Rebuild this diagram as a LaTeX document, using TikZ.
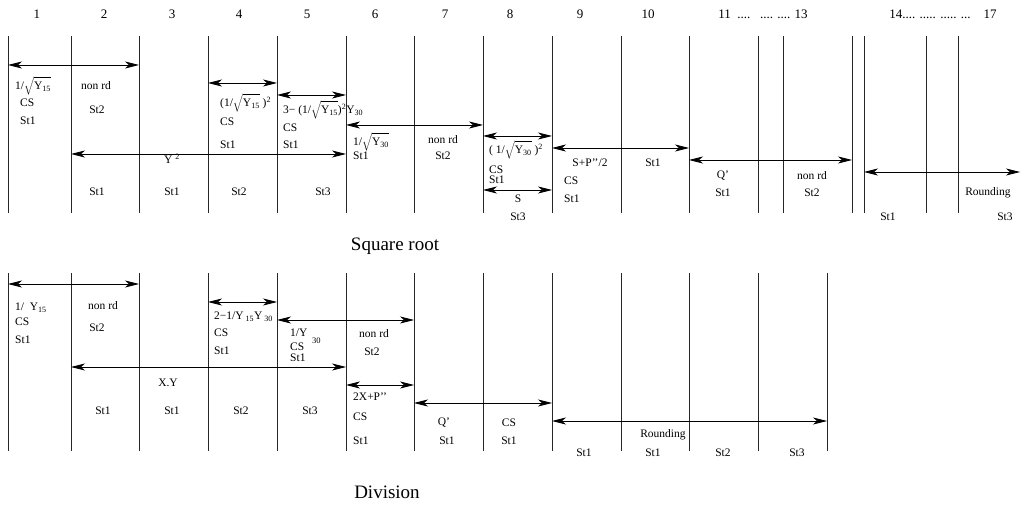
\documentclass[tikz,border=0pt]{standalone}
\usepackage{fontspec}
\setmainfont{Liberation Serif}
\usetikzlibrary{arrows.meta}
\newcommand{\sq}[1]{$\sqrt{\mbox{\rule[-3pt]{0pt}{12.5pt}#1}}$}
\newcommand{\ys}[1]{Y\textsubscript{#1}}
\begin{document}
\begin{tikzpicture}[x=1pt,y=-1pt,
  lane/.style={line width=0.9pt, draw=black!85},
  dbl/.style={line width=0.8pt, {Stealth[length=14pt,width=7pt,inset=4pt]}-{Stealth[length=14pt,width=7pt,inset=4pt]}},
  lbl/.style={font=\fontsize{11.5}{13}\selectfont, inner sep=0pt},
  lw/.style={lbl, anchor=west},
  num/.style={font=\fontsize{13}{15}\selectfont, inner sep=0pt},
  ttl/.style={font=\fontsize{19}{22}\selectfont, inner sep=0pt}]
\useasboundingbox (0,0) rectangle (1021,505);

% ---------- Square root: lanes ----------
\foreach \n/\x in {1/8,2/71,3/139,4/208,5/277,6/346,7/414,8/483,9/552,10/621,11/689,12/758,13/783,14/852,15/864,16/926,17/958}{
  \coordinate (ta\n) at (\x,36);
  \coordinate (tb\n) at (\x,213);
  \draw[lane] (ta\n) -- (tb\n);
}
\coordinate (tend) at (1020,36);

% column numbers
\foreach \n/\x/\t in {1/37/1,2/104/2,3/172/3,4/239/4,5/307/5,6/375/6,7/445/7,8/510/8,9/580/9,10/648/10}{
  \node[num] (num\n) at (\x,14) {\t};
}
\node[num] (num11) at (763,14) {11\ \ ....\ \ \ .... .... 13};
\node[num] (num14) at (943,14) {14.... ..... ..... ...\ \ \ \ 17};

% arrows
\draw[dbl] (ta1 |- 0,65) -- (ta3 |- 0,65);
\draw[dbl] (ta4 |- 0,83) -- (ta5 |- 0,83);
\draw[dbl] (ta5 |- 0,95) -- (ta6 |- 0,95);
\draw[dbl] (ta2 |- 0,154) -- (ta6 |- 0,154);
\draw[dbl] (ta6 |- 0,125) -- (ta8 |- 0,125);
\draw[dbl] (ta8 |- 0,136) -- (ta9 |- 0,136);
\draw[dbl] (ta9 |- 0,148) -- (ta11 |- 0,148);
\draw[dbl] (ta8 |- 0,190) -- (ta9 |- 0,190);
\draw[dbl] (ta11 |- 0,160) -- (ta14 |- 0,160);
\draw[dbl] (ta15 |- 0,172) -- (tend |- 0,172);

% labels
\node[lw] (s1a) at (15,86) {1/\sq{\ys{15}}};
\node[lw] (s1b) at (20,103) {CS};
\node[lw] (s1c) at (20,121) {St1};
\node[lbl] (s2a) at (96,86) {non rd};
\node[lbl] (s2b) at (97,110) {St2};
\node[lw] (s4a) at (220,103) {(1/\sq{\ys{15}} )\textsuperscript{2}};
\node[lw] (s4b) at (220,122) {CS};
\node[lw] (s4c) at (220,145) {St1};
\node[lw] (s5a) at (283,110) {3−\ (1/\sq{\ys{15}})\textsuperscript{2}\ys{30}};
\node[lw] (s5b) at (283,128) {CS};
\node[lw] (s5c) at (283,145) {St1};
\node[lbl] (s3a) at (172,159) {Y \textsuperscript{2}};
\node[lbl] (s2c) at (97,192) {St1};
\node[lbl] (s3b) at (172,192) {St1};
\node[lbl] (s4d) at (239,192) {St2};
\node[lbl] (s5d) at (323,192) {St3};
\node[lw] (s6a) at (353,142) {1/\sq{\ys{30}}};
\node[lw] (s6b) at (353,156) {St1};
\node[lbl] (s7a) at (443,140) {non rd};
\node[lbl] (s7b) at (443,156) {St2};
\node[lw] (s8a) at (489,150) {( 1/\sq{\ys{30}} )\textsuperscript{2}};
\node[lw] (s8b) at (489,170) {CS};
\node[lw] (s8c) at (489,180) {St1};
\node[lbl] (s8d) at (518,199) {S};
\node[lbl] (s8e) at (518,217) {St3};
\node[lbl] (s9a) at (590,163) {S+P’’/2};
\node[lw] (s9b) at (564,181) {CS};
\node[lw] (s9c) at (564,199) {St1};
\node[lbl] (s10a) at (653,163) {St1};
\node[lbl] (s11a) at (723,176) {Q’};
\node[lbl] (s11b) at (723,193) {St1};
\node[lbl] (s13a) at (812,176) {non rd};
\node[lbl] (s13b) at (812,193) {St2};
\node[lbl] (s17a) at (988,193) {Rounding};
\node[lbl] (s14a) at (888,217) {St1};
\node[lbl] (s17b) at (1005,217) {St3};
\node[ttl] (sqtitle) at (395,246) {Square root};

% ---------- Division: lanes ----------
\foreach \n/\x in {1/8,2/71,3/139,4/208,5/277,6/346,7/414,8/483,9/552,10/621,11/689,12/758,13/827}{
  \coordinate (da\n) at (\x,273);
  \coordinate (db\n) at (\x,451);
  \draw[lane] (da\n) -- (db\n);
}

\draw[dbl] (da1 |- 0,284) -- (da3 |- 0,284);
\draw[dbl] (da4 |- 0,302) -- (da5 |- 0,302);
\draw[dbl] (da5 |- 0,320) -- (da7 |- 0,320);
\draw[dbl] (da2 |- 0,367) -- (da6 |- 0,367);
\draw[dbl] (da6 |- 0,385) -- (da7 |- 0,385);
\draw[dbl] (da7 |- 0,403) -- (da9 |- 0,403);
\draw[dbl] (da9 |- 0,421) -- (da13 |- 0,421);

\node[lw] (d1a) at (15,308) {1/\ \ \ys{15}};
\node[lw] (d1b) at (15,322) {CS};
\node[lw] (d1c) at (15,340) {St1};
\node[lbl] (d2a) at (103,306) {non rd};
\node[lbl] (d2b) at (97,328) {St2};
\node[lw] (d4a) at (214,317) {2−1/Y\,\textsubscript{15}Y\,\textsubscript{30}};
\node[lw] (d4b) at (214,333) {CS};
\node[lw] (d4c) at (214,351) {St1};
\node[lw] (d5a) at (290,333) {1/Y};
\node[lw,font=\fontsize{8.5}{10}\selectfont] (d5s) at (312,341) {30};
\node[lw] (d5b) at (290,347) {CS};
\node[lw] (d5c) at (290,358) {St1};
\node[lbl] (d3a) at (168,383) {X.Y};
\node[lbl] (d2c) at (103,411) {St1};
\node[lbl] (d3b) at (172,411) {St1};
\node[lbl] (d4d) at (241,411) {St2};
\node[lbl] (d5d) at (310,411) {St3};
\node[lbl] (d6a) at (374,334) {non rd};
\node[lbl] (d6b) at (372,352) {St2};
\node[lw] (d6c) at (353,397) {2X+P’’};
\node[lw] (d6d) at (353,417) {CS};
\node[lw] (d6e) at (353,441) {St1};
\node[lbl] (d7a) at (444,423) {Q’};
\node[lbl] (d7b) at (447,441) {St1};
\node[lbl] (d8a) at (509,423) {CS};
\node[lbl] (d8b) at (509,441) {St1};
\node[lbl] (d10a) at (663,435) {Rounding};
\node[lbl] (d9a) at (584,453) {St1};
\node[lbl] (d10b) at (653,453) {St1};
\node[lbl] (d11a) at (723,453) {St2};
\node[lbl] (d12a) at (797,453) {St3};
\node[ttl] (dvtitle) at (387,492) {Division};
\end{tikzpicture}
\end{document}
